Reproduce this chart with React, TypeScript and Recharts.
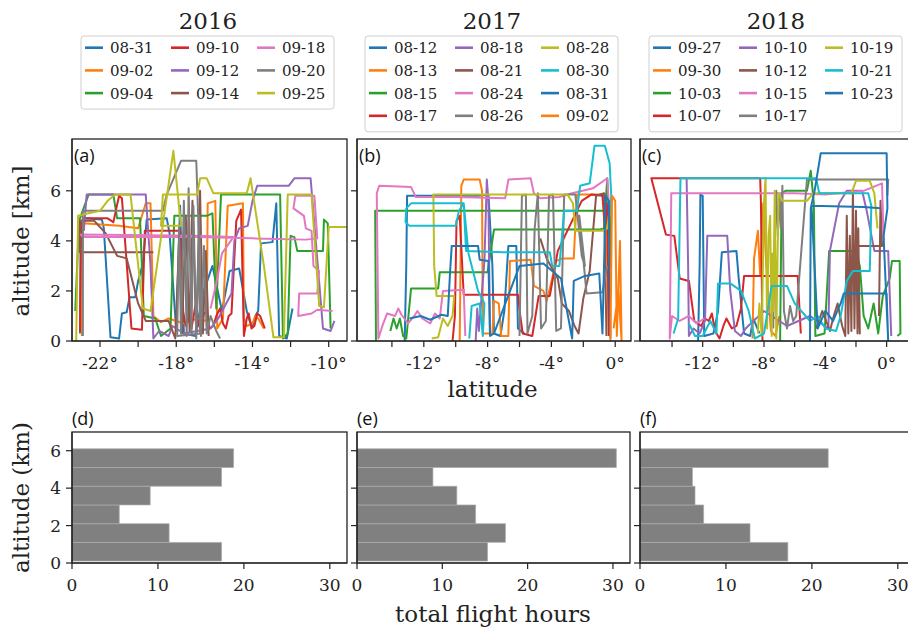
import React from 'react';
import { LineChart, Line, XAxis, YAxis, BarChart, Bar } from 'recharts';

type Pt = [number, number];

// matplotlib tab10 cycle
const TAB10 = ['#1f77b4', '#ff7f0e', '#2ca02c', '#d62728', '#9467bd', '#8c564b', '#e377c2', '#7f7f7f', '#bcbd22', '#17becf'];

const years = ['2016', '2017', '2018'];

// flight dates per campaign
const dates2016 = ['08-31', '09-02', '09-04', '09-10', '09-12', '09-14', '09-18', '09-20', '09-25'];
const dates2017 = ['08-12', '08-13', '08-15', '08-17', '08-18', '08-21', '08-24', '08-26', '08-28', '08-30', '08-31', '09-02'];
const dates2018 = ['09-27', '09-30', '10-03', '10-07', '10-10', '10-12', '10-15', '10-17', '10-19', '10-21', '10-23'];

// flight tracks as [latitude, altitude km]
const tracks2016: Pt[][] = [
  [[-23.05, 0.3], [-23.0, 4.6], [-22.85, 4.9], [-21.9, 4.85], [-21.8, 4.5], [-21.45, 0.15], [-21.0, 0.1], [-20.85, 1.1], [-20.6, 1.15], [-20.45, 1.75], [-20.15, 1.75], [-20.0, 2.4], [-19.75, 3.1], [-19.55, 4.85], [-18.5, 4.9], [-18.35, 4.3], [-18.0, 0.4], [-17.8, 5.4], [-17.6, 0.3], [-17.0, 0.2], [-16.6, 1.9], [-16.1, 3.0], [-15.6, 1.2], [-15.2, 2.8], [-14.7, 2.9], [-14.3, 1.2], [-14.15, 0.8], [-14.0, 0.6], [-13.85, 1.0], [-13.7, 1.2], [-13.55, 3.9], [-12.95, 3.95], [-12.75, 5.5], [-12.6, 0.2], [-12.2, 0.1], [-11.9, 1.3]],
  [[-22.95, 0.2], [-22.9, 4.7], [-21.0, 4.6], [-20.0, 4.5], [-19.6, 5.5], [-19.35, 5.5], [-19.2, 1.0], [-18.8, 0.75], [-18.4, 0.9], [-17.6, 0.7], [-16.9, 0.9], [-16.4, 0.8], [-16.35, 5.5], [-15.95, 5.6], [-15.85, 0.5], [-15.55, 0.9], [-15.3, 5.4], [-14.5, 5.5], [-14.45, 0.9], [-14.3, 0.6], [-14.0, 0.7], [-13.85, 1.0], [-13.7, 0.9], [-13.4, 0.5]],
  [[-23.3, 1.2], [-23.1, 4.8], [-22.6, 5.85], [-21.3, 5.85], [-21.1, 4.9], [-19.9, 4.9], [-19.7, 1.0], [-19.1, 0.9], [-18.8, 0.2], [-18.3, 0.5], [-18.1, 5.0], [-16.4, 5.0], [-16.1, 5.1], [-15.9, 1.3], [-15.65, 5.85], [-13.0, 5.85], [-12.55, 5.85], [-12.4, 0.1], [-12.15, 0.3], [-12.0, 4.2], [-11.8, 4.15], [-11.65, 3.6], [-10.3, 3.6], [-10.25, 4.85], [-10.05, 4.7], [-9.9, 0.5]],
  [[-23.05, 0.4], [-23.0, 4.5], [-22.9, 4.9], [-21.6, 4.9], [-21.3, 4.75], [-21.0, 5.8], [-20.85, 5.7], [-20.35, 0.5], [-19.8, 0.45], [-19.65, 4.4], [-17.8, 4.4], [-17.65, 1.2], [-17.5, 0.6], [-17.35, 1.0], [-17.2, 0.5], [-17.0, 1.4], [-16.85, 0.7], [-16.7, 0.4], [-16.55, 1.1], [-16.4, 1.2], [-16.25, 0.5], [-16.05, 0.6], [-15.9, 1.0], [-15.7, 1.3], [-15.55, 0.7], [-15.4, 0.5], [-15.25, 1.0], [-15.1, 1.1], [-14.85, 4.8], [-14.6, 5.25], [-14.45, 0.2], [-14.3, 0.9], [-14.2, 1.1], [-14.05, 0.5], [-13.9, 0.6], [-13.75, 1.1], [-13.6, 1.0], [-13.35, 0.5]],
  [[-22.85, 4.4], [-22.7, 5.85], [-19.6, 5.85], [-19.35, 3.0], [-19.2, 0.1], [-18.9, 0.4], [-18.4, 0.2], [-18.2, 0.6], [-17.6, 0.3], [-16.2, 0.5], [-15.8, 0.9], [-15.1, 1.9], [-14.95, 4.0], [-14.7, 4.5], [-14.25, 4.6], [-14.0, 5.6], [-13.75, 6.2], [-12.1, 6.2], [-11.8, 6.5], [-10.95, 6.5], [-10.3, 0.5], [-9.9, 0.4], [-9.7, 0.8]],
  [[-19.2, 3.55], [-23.05, 3.55], [-23.05, 4.8], [-22.3, 4.8], [-21.7, 4.3], [-21.1, 3.4], [-20.6, 3.3], [-20.0, 1.5], [-19.6, 0.8], [-18.4, 0.8], [-18.05, 0.1], [-17.85, 4.0], [-17.7, 0.3], [-17.5, 5.0], [-17.3, 0.4], [-17.15, 5.6], [-16.95, 0.3], [-16.75, 6.0], [-16.6, 0.3], [-16.45, 3.6], [-16.3, 0.2]],
  [[-16.2, 1.3], [-15.9, 2.3], [-15.6, 3.5], [-15.0, 4.15], [-17.0, 4.2], [-23.0, 4.25], [-22.9, 4.15], [-17.0, 4.15], [-14.0, 4.1], [-11.2, 4.05], [-10.6, 4.1], [-10.75, 5.8], [-11.75, 5.8], [-11.85, 5.3], [-11.3, 5.0], [-11.2, 4.5], [-10.9, 4.4], [-10.8, 3.0], [-10.5, 2.8], [-10.6, 1.9], [-11.55, 1.9], [-11.6, 1.0], [-10.9, 1.1], [-10.6, 1.25], [-9.8, 1.2]],
  [[-22.9, 0.2], [-22.9, 5.2], [-18.7, 5.2], [-18.5, 5.85], [-17.75, 7.2], [-16.95, 7.2], [-16.85, 5.0], [-16.75, 0.3], [-17.95, 0.2], [-17.85, 4.6], [-17.75, 0.3], [-17.6, 5.6], [-17.45, 0.2], [-17.35, 6.1], [-17.2, 0.3], [-17.1, 5.4], [-16.95, 0.1], [-16.8, 5.0], [-16.7, 0.2], [-16.55, 3.8], [-16.4, 0.3], [-16.2, 1.0], [-15.9, 0.4], [-15.7, 0.1]],
  [[-23.25, 0.0], [-23.15, 5.0], [-22.6, 5.1], [-22.0, 5.2], [-21.6, 5.6], [-21.2, 5.85], [-20.4, 5.85], [-19.75, 1.3], [-19.35, 1.2], [-18.15, 7.6], [-17.75, 4.6], [-18.8, 4.6], [-18.7, 5.85], [-16.9, 5.85], [-16.75, 6.5], [-16.4, 6.5], [-16.05, 5.9], [-14.3, 5.9], [-14.1, 6.5], [-13.4, 3.0], [-12.9, 0.15], [-12.35, 0.15], [-12.15, 5.85], [-10.9, 5.85], [-10.5, 1.4], [-10.25, 1.35], [-10.0, 4.55], [-9.04, 4.55]],
];

const tracks2017: Pt[][] = [
  [[-13.2, 0.0], [-13.1, 3.0], [-13.05, 5.8], [-11.0, 5.8], [-8.6, 5.8], [-7.95, 5.85], [-7.7, 3.0], [-7.6, 0.3], [-7.2, 0.2], [-6.95, 1.2], [-6.7, 3.8], [-6.2, 3.8], [-6.1, 0.5], [-5.7, 0.3]],
  [[-9.75, 0.0], [-9.7, 3.0], [-9.65, 6.2], [-9.5, 6.45], [-8.5, 6.45], [-8.35, 6.0], [-8.3, 0.3], [-7.7, 0.3], [-7.6, 1.6], [-7.3, 1.5], [-7.15, 0.2], [-6.7, 0.2], [-6.6, 3.2], [-5.3, 3.25], [-5.1, 2.2], [-4.5, 2.0], [-4.3, 1.6], [-4.1, 2.1], [-3.7, 3.2], [-3.3, 3.3], [-2.6, 3.3], [-2.4, 5.85], [-0.6, 5.85], [-0.4, 0.3]],
  [[-15.0, 0.0], [-15.05, 5.2], [-12.0, 5.2], [-8.0, 5.2], [-4.0, 5.2], [-0.25, 5.2], [-0.3, 3.0], [-0.5, 6.5], [-0.7, 4.5], [-1.0, 4.45], [-7.6, 4.45], [-8.0, 2.75], [-11.0, 2.75], [-11.1, 2.1], [-12.8, 2.1], [-13.1, 0.1], [-13.3, 0.2], [-13.5, 0.9], [-13.7, 0.5], [-13.9, 0.9], [-14.1, 0.4]],
  [[-10.2, 0.0], [-10.05, 1.0], [-9.95, 4.8], [-9.75, 5.0], [-9.5, 1.85], [-6.1, 1.85], [-5.95, 1.0], [-5.8, 0.3], [-5.2, 0.2], [-4.8, 1.8], [-4.1, 1.8], [-3.6, 3.6], [-2.1, 5.6], [-1.5, 5.85], [-0.8, 5.8], [-0.65, 4.5], [-0.5, 5.5], [-0.4, 0.2]],
  [[-8.75, 0.0], [-8.65, 1.3], [-8.55, 0.4], [-8.4, 1.6], [-8.2, 3.2], [-8.05, 6.45], [-7.95, 5.6], [-7.85, 0.2]],
  [[-4.7, 4.1], [-4.3, 3.3], [-3.6, 2.5], [-3.35, 1.5], [-2.9, 1.2], [-2.55, 0.6], [-2.3, 0.3], [-2.0, 1.7], [-1.6, 2.8], [-1.2, 5.8], [-0.7, 5.9], [-0.55, 0.2]],
  [[-9.4, 0.2], [-9.5, 2.05], [-10.8, 2.0], [-11.0, 0.9], [-11.3, 1.1], [-11.6, 0.7], [-12.1, 0.9], [-12.4, 1.2], [-12.6, 1.0], [-13.0, 0.7], [-13.4, 1.05], [-13.6, 1.3], [-13.8, 1.0], [-14.3, 1.1], [-14.6, 0.6], [-14.85, 0.1], [-14.95, 5.9], [-14.8, 6.2], [-12.8, 6.15], [-12.5, 5.75], [-10.0, 5.75], [-6.9, 5.7], [-6.7, 6.45], [-5.3, 6.5], [-5.1, 5.9], [-4.7, 5.7], [-3.5, 5.75], [-2.7, 5.9], [-1.4, 6.1], [-0.5, 6.5], [-0.35, 5.0]],
  [[-6.0, 0.2], [-5.85, 5.8], [-5.6, 5.85], [-5.5, 0.3], [-5.2, 1.0], [-5.05, 4.5], [-4.85, 5.9], [-4.65, 0.5], [-4.35, 0.8], [-4.15, 5.8], [-3.9, 5.85], [-3.7, 0.4], [-3.4, 0.5], [-3.2, 5.85], [-2.5, 5.85], [-2.1, 3.4], [-1.9, 3.0], [-2.25, 5.0], [-1.8, 1.9], [-0.8, 1.95], [-0.5, 3.0]],
  [[-11.5, 0.1], [-11.1, 0.15], [-10.8, 0.9], [-10.5, 0.6], [-10.2, 1.0], [-10.1, 1.8], [-11.2, 1.8], [-11.35, 3.0], [-11.4, 5.85], [-8.0, 5.85], [-3.0, 5.85], [-2.65, 5.5], [-2.5, 4.4], [-0.8, 4.4], [-0.5, 4.5], [-0.4, 5.0]],
  [[-9.15, 0.1], [-9.0, 1.4], [-8.5, 1.5], [-8.3, 0.2], [-8.2, 1.5], [-8.6, 2.0], [-9.2, 3.5], [-9.5, 5.5], [-9.8, 5.2], [-10.0, 4.6], [-12.9, 4.6], [-13.15, 4.75], [-13.1, 5.3], [-12.8, 5.5], [-9.5, 5.5], [-9.35, 3.6], [-7.0, 3.55], [-4.1, 3.55], [-3.95, 3.0], [-3.5, 3.0], [-3.2, 5.2], [-2.4, 5.2], [-2.2, 6.2], [-1.6, 6.3], [-1.3, 7.8], [-0.65, 7.8], [-0.35, 7.1], [-0.25, 5.8], [-0.3, 5.2]],
  [[-12.9, 0.9], [-12.2, 1.0], [-11.6, 0.85], [-10.9, 1.05], [-10.5, 1.0], [-10.35, 2.8], [-10.25, 3.8], [-8.6, 3.8], [-8.5, 3.25], [-7.95, 3.2], [-7.85, 0.2], [-7.6, 0.3], [-6.0, 3.0], [-4.5, 3.1], [-3.4, 2.5], [-2.7, 0.1], [-2.6, 2.4], [-1.9, 2.6], [-1.0, 2.7], [-0.8, 0.3], [-0.6, 5.8], [-0.4, 5.6], [-0.3, 0.1]],
  [[-0.3, 0.0], [-0.2, 5.8], [0.0, 5.6], [0.1, 0.2], [0.3, 4.0], [0.4, 0.0], [0.2, 2.0], [-0.1, 0.5]],
];

const tracks2018: Pt[][] = [
  [[-12.3, 0.0], [-12.2, 3.0], [-12.15, 5.85], [-12.0, 5.8], [-11.9, 0.2], [-11.3, 0.3], [-11.0, 1.2], [-10.75, 3.55], [-9.8, 3.6], [-9.65, 2.5], [-9.3, 0.3], [-8.9, 0.2], [-8.7, 0.9], [-8.3, 0.3]],
  [[-8.75, 0.1], [-8.65, 3.3], [-8.4, 4.4], [-8.25, 2.6], [-8.05, 5.5], [-7.85, 3.0], [-7.55, 0.4], [-7.25, 0.2], [-7.0, 1.0]],
  [[-6.95, 0.0], [-6.85, 5.9], [-6.6, 6.0], [-5.2, 6.0], [-4.95, 6.8], [-4.75, 5.5], [-4.65, 0.2], [-4.05, 0.3], [-3.75, 3.6], [-2.0, 3.6], [-1.75, 3.0], [-1.5, 1.0], [-1.2, 0.5], [-0.85, 1.5], [-0.55, 0.3], [-0.25, 1.8], [0.2, 2.5], [0.35, 3.2], [0.85, 3.2], [0.9, 0.3], [0.7, 0.2]],
  [[-8.1, 0.0], [-8.2, 5.5], [-8.25, 6.5], [-15.35, 6.5], [-14.4, 4.25], [-13.85, 4.2], [-13.5, 2.5], [-12.9, 2.4], [-12.55, 0.8], [-12.1, 0.6], [-11.85, 0.9], [-11.6, 0.8], [-11.4, 1.1], [-11.2, 0.4], [-10.9, 0.1], [-10.65, 0.6], [-10.45, 0.9], [-10.1, 0.5], [-9.8, 0.6], [-9.5, 1.3], [-9.3, 2.6], [-5.8, 2.6], [-5.6, 0.3]],
  [[-13.05, 6.5], [-12.95, 3.0], [-12.9, 0.2], [-12.6, 0.5], [-12.2, 0.3], [-11.85, 0.8], [-11.7, 4.2], [-10.4, 4.2], [-10.2, 2.0], [-9.9, 0.4], [-9.5, 0.2], [-9.2, 0.5], [-8.0, 1.2], [-6.5, 0.6], [-5.0, 1.0], [-3.8, 0.5], [-3.7, 3.6], [-3.1, 5.5], [-2.6, 6.0], [-1.6, 6.0], [-1.3, 5.2], [-0.8, 3.6], [0.1, 3.6], [0.3, 0.2]],
  [[-4.6, 0.5], [-4.2, 1.2], [-3.7, 0.4], [-3.45, 1.0], [-3.2, 1.5], [-2.9, 0.6], [-2.7, 0.2], [-2.6, 5.0], [-2.5, 0.3], [-2.4, 4.2], [-2.3, 0.4], [-2.2, 6.0], [-2.1, 0.5], [-2.0, 5.2], [-1.9, 0.3], [-1.85, 4.5], [-1.75, 0.3], [-1.9, 3.8], [-0.3, 3.8], [-0.4, 5.6], [-0.5, 1.0]],
  [[-11.9, 0.9], [-12.4, 0.7], [-12.9, 1.0], [-13.5, 0.8], [-14.0, 1.0], [-14.15, 0.1], [-14.05, 5.9], [-9.0, 5.9], [-6.0, 5.9], [-4.0, 5.85], [-1.5, 6.0], [-0.3, 6.3], [-0.2, 4.0]],
  [[-7.4, 0.5], [-7.3, 4.0], [-7.2, 6.0], [-7.1, 4.2], [-7.0, 5.8], [-6.9, 4.5], [-6.8, 6.2], [-6.7, 1.2], [-6.5, 0.5], [-6.3, 1.4], [-6.1, 0.8], [-5.9, 1.0], [-5.2, 6.45], [0.1, 6.45], [0.05, 5.8]],
  [[-8.4, 0.3], [-8.3, 1.5], [-8.15, 0.2], [-8.0, 5.5], [-7.9, 6.5], [-7.8, 0.5], [-7.7, 4.2], [-7.6, 5.0], [-7.5, 0.2], [-7.45, 3.5], [-7.4, 1.2], [-7.3, 6.0], [-7.2, 0.1], [-7.05, 5.9], [-6.8, 5.6], [-5.2, 5.6], [-4.8, 5.9], [-2.3, 5.9], [-2.0, 6.4], [-1.1, 6.4], [-0.8, 5.9], [-0.6, 4.5]],
  [[-13.9, 0.3], [-13.6, 0.9], [-13.45, 6.5], [-4.6, 6.5], [-4.4, 5.9], [-1.2, 5.9], [-1.0, 5.4], [-1.1, 2.8], [-1.7, 2.8], [-2.2, 2.8], [-2.6, 2.4], [-3.0, 1.0], [-3.3, 0.4], [-4.0, 0.5], [-4.5, 1.0], [-5.0, 0.8], [-6.0, 1.5], [-6.5, 2.2], [-7.5, 2.2], [-8.0, 0.3], [-8.6, 0.1], [-9.0, 1.2], [-9.5, 2.0], [-10.2, 2.3], [-11.0, 2.3], [-11.1, 0.3], [-11.5, 0.8], [-12.0, 0.2], [-12.5, 0.2], [-12.9, 0.7]],
  [[-5.0, 0.0], [-4.95, 5.3], [-4.7, 6.0], [-4.3, 7.5], [0.0, 7.5], [0.05, 5.3], [-0.2, 4.2], [0.1, 0.0], [0.0, 1.9], [-2.8, 1.9], [-3.0, 1.5], [-3.5, 0.8], [-4.0, 1.2], [-4.5, 0.5], [-4.9, 5.4], [-1.5, 5.35], [-0.4, 5.3]],
];

// histogram of total flight hours per 1 km altitude bin
const altBins = [0.6, 1.6, 2.6, 3.6, 4.6, 5.6];
const hours2016 = [17.4, 11.3, 5.5, 9.1, 17.4, 18.8];
const hours2017 = [15.3, 17.4, 13.9, 11.7, 8.9, 30.4];
const hours2018 = [17.2, 12.8, 7.4, 6.4, 6.1, 21.9];

const altTicks = [0, 2, 4, 6];
const hourTicks = [0, 10, 20, 30];
const latTicks2016 = [-22, -20, -18, -16, -14, -12, -10];
const latLabels2016 = [-22, -18, -14, -10];
const latTicks2017 = [-14, -12, -10, -8, -6, -4, -2, 0];
const latLabels2017 = [-12, -8, -4, 0];

const SERIF = 'DejaVu Serif, serif';
const INK = '#222';
const lineStyle = { stroke: INK, strokeWidth: 1.2 };

const YW = 60;
const MT = 4;
const MR = 6;
const XH = 40;
const TOP_Y = 139;
const TOP_H = 202;
const BOT_Y = 432;
const BOT_H = 131;

const toRows = (pts: Pt[]) => pts.map(([lat, alt]) => ({ lat, alt }));

// tick label renderers so the serif face and size are exactly what we ask for
const makeXTick = (fmt: (v: number) => string) => (props: any) => {
  const { x, y, payload } = props;
  const s = fmt(payload.value);
  return (
    <text x={x} y={y} dy={12} textAnchor="middle" fontFamily={SERIF} fontSize={17} fill={INK}>
      {s}
    </text>
  );
};

const makeYTick = (show: boolean) => (props: any) => {
  const { x, y, payload } = props;
  return (
    <text x={x} y={y} dy={6} textAnchor="end" fontFamily={SERIF} fontSize={17} fill={INK}>
      {show ? String(payload.value) : ''}
    </text>
  );
};

interface TrackPanelProps {
  left: number;
  plotW: number;
  domain: [number, number];
  ticks: number[];
  labeled: number[];
  dates: string[];
  tracks: Pt[][];
  showY: boolean;
}

const TrackPanel: React.FC<TrackPanelProps> = ({ left, plotW, domain, ticks, labeled, dates, tracks, showY }) => (
  <div style={{ position: 'absolute', left: left - YW, top: TOP_Y - MT }}>
    <LineChart width={YW + plotW + MR} height={MT + TOP_H + XH} margin={{ top: MT, right: MR, bottom: 0, left: 0 }}>
      <XAxis
        type="number"
        dataKey="lat"
        domain={domain}
        ticks={ticks}
        interval={0}
        allowDataOverflow
        height={XH}
        tickSize={6}
        tickMargin={10}
        tick={makeXTick((v) => (labeled.includes(v) ? `${v}°` : ''))}
        axisLine={lineStyle}
        tickLine={lineStyle}
      />
      <YAxis
        type="number"
        domain={[0, 8.07]}
        ticks={altTicks}
        interval={0}
        allowDataOverflow
        width={YW}
        tickSize={6}
        tickMargin={5}
        tick={makeYTick(showY)}
        axisLine={lineStyle}
        tickLine={lineStyle}
      />
      {tracks.map((t, i) => (
        <Line
          key={dates[i]}
          name={dates[i]}
          data={toRows(t)}
          dataKey="alt"
          stroke={TAB10[i % 10]}
          strokeWidth={2}
          strokeLinejoin="round"
          dot={false}
          activeDot={false}
          isAnimationActive={false}
        />
      ))}
    </LineChart>
  </div>
);

interface HoursPanelProps {
  left: number;
  plotW: number;
  hours: number[];
  showY: boolean;
}

const HoursPanel: React.FC<HoursPanelProps> = ({ left, plotW, hours, showY }) => {
  const rows = altBins.map((alt, i) => ({ alt, hours: hours[i] }));
  return (
    <div style={{ position: 'absolute', left: left - YW, top: BOT_Y - MT }}>
      <BarChart
        layout="vertical"
        width={YW + plotW + MR}
        height={MT + BOT_H + XH}
        data={rows}
        barGap={0}
        barCategoryGap={0}
        margin={{ top: MT, right: MR, bottom: 0, left: 0 }}
      >
        <XAxis
          type="number"
          domain={[0, 32]}
          ticks={hourTicks}
          interval={0}
          allowDataOverflow
          height={XH}
          tickSize={6}
          tickMargin={10}
          tick={makeXTick((v) => String(v))}
          axisLine={lineStyle}
          tickLine={lineStyle}
        />
        <YAxis
          type="number"
          dataKey="alt"
          domain={[0, 7]}
          ticks={altTicks}
          interval={0}
          reversed
          allowDataOverflow
          width={YW}
          tickSize={6}
          tickMargin={5}
          tick={makeYTick(showY)}
          axisLine={lineStyle}
          tickLine={lineStyle}
        />
        <Bar dataKey="hours" barSize={BOT_H / 7 - 0.05} fill="#808080" stroke="#a9a9a9" strokeWidth={0.7} isAnimationActive={false} />
      </BarChart>
    </div>
  );
};

// panel boxes (left, width) in page pixels
const cols = [
  { left: 72, topW: 275, botW: 275 },
  { left: 357, topW: 274, botW: 273 },
  { left: 640, topW: 275, botW: 275 },
];

const legends = [
  { x: 81, w: 253, rows: 3, dates: dates2016 },
  { x: 365, w: 253, rows: 4, dates: dates2017 },
  { x: 649, w: 253, rows: 4, dates: dates2018 },
];

const titleX = [208, 492, 776];
const panelTags = ['(a)', '(b)', '(c)', '(d)', '(e)', '(f)'];
const SANS = 'Open Sans, Liberation Sans, sans-serif';

export default function App() {
  return (
    <div style={{ position: 'absolute', left: 0, top: 0, width: 908, height: 629, overflow: 'hidden', background: '#fff' }}>
      <TrackPanel left={cols[0].left} plotW={cols[0].topW} domain={[-23.47, -9.04]} ticks={latTicks2016} labeled={latLabels2016} dates={dates2016} tracks={tracks2016} showY />
      <TrackPanel left={cols[1].left} plotW={cols[1].topW} domain={[-16.19, 0.99]} ticks={latTicks2017} labeled={latLabels2017} dates={dates2017} tracks={tracks2017} showY={false} />
      <TrackPanel left={cols[2].left} plotW={cols[2].topW} domain={[-16.09, 1.85]} ticks={latTicks2017} labeled={latLabels2017} dates={dates2018} tracks={tracks2018} showY={false} />

      <HoursPanel left={cols[0].left} plotW={cols[0].botW} hours={hours2016} showY />
      <HoursPanel left={cols[1].left} plotW={cols[1].botW} hours={hours2017} showY={false} />
      <HoursPanel left={cols[2].left} plotW={cols[2].botW} hours={hours2018} showY={false} />

      <svg width={908} height={629} style={{ position: 'absolute', left: 0, top: 0, pointerEvents: 'none' }}>
        {/* frames */}
        {cols.map((c, i) => (
          <g key={`f${i}`} fill="none" stroke={INK} strokeWidth={1.3}>
            <rect x={c.left} y={TOP_Y} width={c.topW} height={TOP_H} />
            <rect x={c.left} y={BOT_Y} width={c.botW} height={BOT_H} />
          </g>
        ))}

        {/* year titles */}
        {years.map((y, i) => (
          <text key={y} x={titleX[i]} y={28.5} textAnchor="middle" fontFamily={SERIF} fontSize={23} fill={INK}>
            {y}
          </text>
        ))}

        {/* legends */}
        {legends.map((lg, li) => {
          const h = lg.rows * 22.7 + 5;
          return (
            <g key={`lg${li}`}>
              <rect x={lg.x} y={36} width={lg.w} height={h} rx={3} fill="#fff" fillOpacity={0.8} stroke="#d0d0d0" strokeWidth={1} />
              {lg.dates.map((d, i) => {
                const col = Math.floor(i / lg.rows);
                const row = i % lg.rows;
                const lx = lg.x + 4 + col * 86;
                const ly = 47.7 + row * 22.7;
                return (
                  <g key={`${li}-${d}-${i}`}>
                    <line x1={lx} x2={lx + 18} y1={ly} y2={ly} stroke={TAB10[i % 10]} strokeWidth={2.6} />
                    <text x={lx + 25} y={ly + 5.5} fontFamily={SERIF} fontSize={15} fill={INK}>
                      {d}
                    </text>
                  </g>
                );
              })}
            </g>
          );
        })}

        {/* panel tags */}
        {cols.map((c, i) => (
          <text key={`ta${i}`} x={c.left + 2} y={162} fontFamily={SANS} fontSize={18} fill="#111">
            {panelTags[i]}
          </text>
        ))}
        {cols.map((c, i) => (
          <text key={`tb${i}`} x={c.left} y={425} fontFamily={SANS} fontSize={18} fill="#111">
            {panelTags[i + 3]}
          </text>
        ))}

        {/* axis labels */}
        <text x={492.5} y={397} textAnchor="middle" fontFamily={SERIF} fontSize={23} fill={INK}>
          latitude
        </text>
        <text x={493} y={622} textAnchor="middle" fontFamily={SERIF} fontSize={23} fill={INK}>
          total flight hours
        </text>
        <text transform="translate(29,241) rotate(-90)" textAnchor="middle" fontFamily={SERIF} fontSize={23} fill={INK}>
          altitude [km]
        </text>
        <text transform="translate(29,497.5) rotate(-90)" textAnchor="middle" fontFamily={SERIF} fontSize={23} fill={INK}>
          altitude (km)
        </text>
      </svg>
    </div>
  );
}
